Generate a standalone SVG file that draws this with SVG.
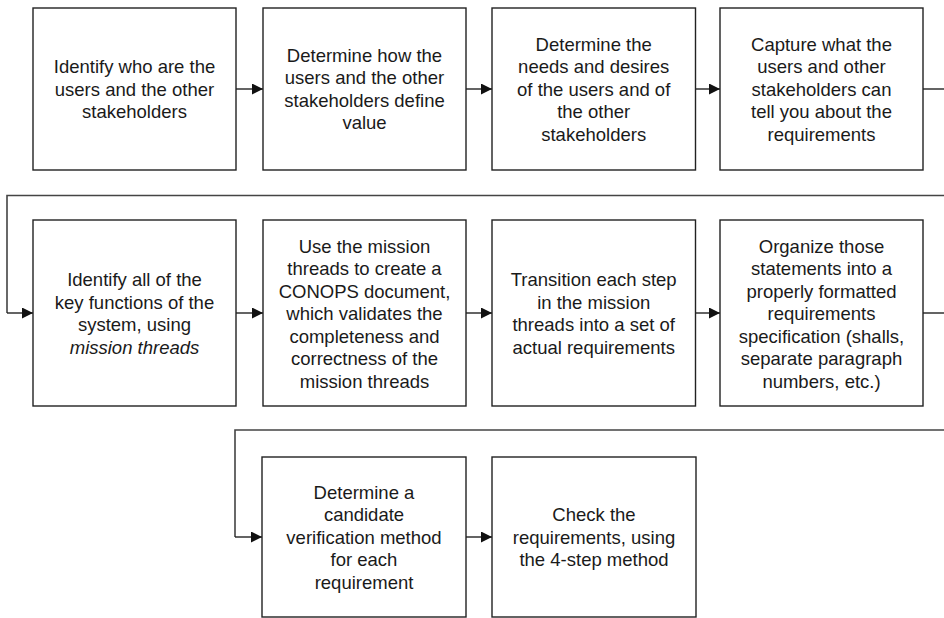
<svg xmlns="http://www.w3.org/2000/svg" width="944" height="618" viewBox="0 0 944 618">
  <defs>
    <marker id="arrow" viewBox="0 0 11 11" refX="11" refY="5.5" markerWidth="11" markerHeight="11" markerUnits="userSpaceOnUse" orient="auto">
      <path d="M0,0 L11,5.5 L0,11 Z" fill="#111"/>
    </marker>
    <style>
      .box { fill: #fff; stroke: #222; stroke-width: 1.4; }
      .lbl { font-family: "Liberation Sans", Arial, Helvetica, sans-serif; font-size: 18.5px; fill: #1a1a1a; text-anchor: middle; }
      .it { font-style: italic; }
      .link { fill: none; stroke: #222; stroke-width: 1.4; }
      .wrap { fill: none; stroke: #444; stroke-width: 1.6; }
    </style>
  </defs>
  <rect width="944" height="618" fill="#fff"/>

  <!-- connectors -->
  <g id="connectors">
    <line class="link" x1="236" y1="89" x2="263" y2="89" marker-end="url(#arrow)"/>
    <line class="link" x1="466" y1="89" x2="492" y2="89" marker-end="url(#arrow)"/>
    <line class="link" x1="695.5" y1="89" x2="720" y2="89" marker-end="url(#arrow)"/>
    <line class="link" x1="923" y1="89" x2="944" y2="89"/>
    <polyline class="wrap" points="944,195.5 7,195.5 7,313"/>
    <line class="link" x1="7" y1="313" x2="33" y2="313" marker-end="url(#arrow)"/>
    <line class="link" x1="236" y1="313" x2="263" y2="313" marker-end="url(#arrow)"/>
    <line class="link" x1="466" y1="313" x2="492" y2="313" marker-end="url(#arrow)"/>
    <line class="link" x1="695.5" y1="313" x2="720" y2="313" marker-end="url(#arrow)"/>
    <line class="link" x1="923" y1="313" x2="944" y2="313"/>
    <polyline class="wrap" points="944,430 235,430 235,537"/>
    <line class="link" x1="235" y1="537" x2="262" y2="537" marker-end="url(#arrow)"/>
    <line class="link" x1="466" y1="537" x2="492" y2="537" marker-end="url(#arrow)"/>
  </g>

  <!-- row 1 -->
  <g id="identify-stakeholders">
    <rect class="box" x="33" y="8" width="203" height="162"/>
    <text class="lbl" x="134.5" y="73">Identify who are the</text>
    <text class="lbl" x="134.5" y="95.5">users and the other</text>
    <text class="lbl" x="134.5" y="118">stakeholders</text>
  </g>
  <g id="define-value">
    <rect class="box" x="263" y="8" width="203" height="162"/>
    <text class="lbl" x="364.5" y="61.5">Determine how the</text>
    <text class="lbl" x="364.5" y="84">users and the other</text>
    <text class="lbl" x="364.5" y="106.5">stakeholders define</text>
    <text class="lbl" x="364.5" y="129">value</text>
  </g>
  <g id="needs-desires">
    <rect class="box" x="492" y="8" width="203.5" height="162"/>
    <text class="lbl" x="593.7" y="50.5">Determine the</text>
    <text class="lbl" x="593.7" y="73">needs and desires</text>
    <text class="lbl" x="593.7" y="95.5">of the users and of</text>
    <text class="lbl" x="593.7" y="118">the other</text>
    <text class="lbl" x="593.7" y="140.5">stakeholders</text>
  </g>
  <g id="capture-requirements">
    <rect class="box" x="720" y="8" width="203" height="162"/>
    <text class="lbl" x="821.5" y="50.5">Capture what the</text>
    <text class="lbl" x="821.5" y="73">users and other</text>
    <text class="lbl" x="821.5" y="95.5">stakeholders can</text>
    <text class="lbl" x="821.5" y="118">tell you about the</text>
    <text class="lbl" x="821.5" y="140.5">requirements</text>
  </g>

  <!-- row 2 -->
  <g id="key-functions">
    <rect class="box" x="33" y="220" width="203" height="186"/>
    <text class="lbl" x="134.5" y="286">Identify all of the</text>
    <text class="lbl" x="134.5" y="308.5">key functions of the</text>
    <text class="lbl" x="134.5" y="331">system, using</text>
    <text class="lbl it" x="134.5" y="353.5">mission threads</text>
  </g>
  <g id="conops">
    <rect class="box" x="263" y="220" width="203" height="186"/>
    <text class="lbl" x="364.5" y="252.5">Use the mission</text>
    <text class="lbl" x="364.5" y="275">threads to create a</text>
    <text class="lbl" x="364.5" y="297.5">CONOPS document,</text>
    <text class="lbl" x="364.5" y="320">which validates the</text>
    <text class="lbl" x="364.5" y="342.5">completeness and</text>
    <text class="lbl" x="364.5" y="365">correctness of the</text>
    <text class="lbl" x="364.5" y="387.5">mission threads</text>
  </g>
  <g id="transition-steps">
    <rect class="box" x="492" y="220" width="203.5" height="186"/>
    <text class="lbl" x="593.7" y="286">Transition each step</text>
    <text class="lbl" x="593.7" y="308.5">in the mission</text>
    <text class="lbl" x="593.7" y="331">threads into a set of</text>
    <text class="lbl" x="593.7" y="353.5">actual requirements</text>
  </g>
  <g id="organize-spec">
    <rect class="box" x="720" y="220" width="203" height="186"/>
    <text class="lbl" x="821.5" y="252.5">Organize those</text>
    <text class="lbl" x="821.5" y="275">statements into a</text>
    <text class="lbl" x="821.5" y="297.5">properly formatted</text>
    <text class="lbl" x="821.5" y="320">requirements</text>
    <text class="lbl" x="821.5" y="342.5">specification (shalls,</text>
    <text class="lbl" x="821.5" y="365">separate paragraph</text>
    <text class="lbl" x="821.5" y="387.5">numbers, etc.)</text>
  </g>

  <!-- row 3 -->
  <g id="verification-method">
    <rect class="box" x="262" y="457" width="204" height="160"/>
    <text class="lbl" x="364" y="498.5">Determine a</text>
    <text class="lbl" x="364" y="521">candidate</text>
    <text class="lbl" x="364" y="543.5">verification method</text>
    <text class="lbl" x="364" y="566">for each</text>
    <text class="lbl" x="364" y="588.5">requirement</text>
  </g>
  <g id="check-requirements">
    <rect class="box" x="492" y="457" width="204" height="160"/>
    <text class="lbl" x="594" y="521">Check the</text>
    <text class="lbl" x="594" y="543.5">requirements, using</text>
    <text class="lbl" x="594" y="566">the 4-step method</text>
  </g>
</svg>
